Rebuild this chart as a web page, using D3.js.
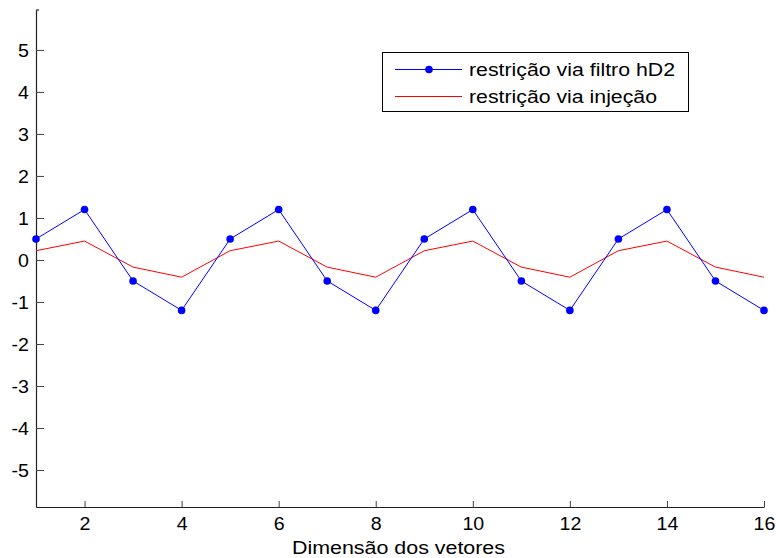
<!DOCTYPE html>
<html>
<head>
<meta charset="utf-8">
<script src="https://cdn.jsdelivr.net/npm/d3@7"></script>
<style>
  html, body { margin: 0; padding: 0; background: #fff; }
  svg { display: block; }
  text { font-family: "Liberation Sans", Arial, sans-serif; fill: #000; }
</style>
</head>
<body>
<script>
// Vector index (dimension) and the two restricted signals
const dims = [1, 2, 3, 4, 5, 6, 7, 8, 9, 10, 11, 12, 13, 14, 15, 16];
const filtroHD2 = [0.5, 1.2, -0.5, -1.2, 0.5, 1.2, -0.5, -1.2, 0.5, 1.2, -0.5, -1.2, 0.5, 1.2, -0.5, -1.2];
const injecao = [0.22, 0.45, -0.17, -0.41, 0.22, 0.45, -0.17, -0.41, 0.22, 0.45, -0.17, -0.41, 0.22, 0.45, -0.17, -0.41];
const xTicks = [2, 4, 6, 8, 10, 12, 14, 16];
const yTicks = [-5, -4, -3, -2, -1, 0, 1, 2, 3, 4, 5];
const seriesNames = ["restrição via filtro hD2", "restrição via injeção"];
const xTitle = "Dimensão dos vetores";

const W = 776, H = 558;
const plotL = 36, plotR = 764, plotT = 10, plotB = 507;
const FONT = "17.5px";
const STRETCH = 1.12; // text is drawn slightly wide

const svg = d3.select("body").append("svg").attr("width", W).attr("height", H);

const x = d3.scaleLinear().domain([1, 16]).range([plotL, plotR]);
const y = d3.scaleLinear().domain([-5.88, 5.95]).range([plotB, plotT]);

function widen(sel, factor) {
  sel.each(function () {
    const w = this.getComputedTextLength();
    d3.select(this).attr("textLength", w * factor).attr("lengthAdjust", "spacingAndGlyphs");
  });
}

// Axes: left and bottom only, ticks pointing inward; plain hyphen for negatives
const plain = d => String(d);
const yAxis = d3.axisLeft(y).tickValues(yTicks).tickFormat(plain).tickSizeInner(-8).tickSizeOuter(0).tickPadding(7);
const xAxis = d3.axisBottom(x).tickValues(xTicks).tickFormat(plain).tickSizeInner(-6).tickSizeOuter(0).tickPadding(11);

const gy = svg.append("g").attr("transform", `translate(${plotL},0)`).call(yAxis);
const gx = svg.append("g").attr("transform", `translate(0,${plotB})`).call(xAxis);

[gy, gx].forEach(g => {
  g.select(".domain").attr("stroke", "#222").attr("stroke-width", 1.2);
  g.selectAll(".tick line").attr("stroke", "#444").attr("stroke-width", 1);
  g.selectAll(".tick text").style("font-size", FONT).style("font-family", "'Liberation Sans', Arial, sans-serif");
});
gy.selectAll(".tick text").attr("dy", "0.36em");
gx.selectAll(".tick text").attr("dy", "0.71em");
widen(gy.selectAll(".tick text"), STRETCH);
widen(gx.selectAll(".tick text"), STRETCH);

// small top-corner tick of the vertical axis
svg.append("line").attr("x1", plotL).attr("x2", plotL + 3).attr("y1", plotT).attr("y2", plotT)
  .attr("stroke", "#222").attr("stroke-width", 1.2);

// x axis title
svg.append("text").attr("x", 398.5).attr("y", 554)
  .attr("text-anchor", "middle").style("font-size", FONT).text(xTitle)
  .attr("textLength", 213).attr("lengthAdjust", "spacingAndGlyphs");

const line = d3.line().x((d, i) => x(dims[i])).y(d => y(d));

// red series
svg.append("path").datum(injecao).attr("d", line)
  .attr("fill", "none").attr("stroke", "#ff0000").attr("stroke-width", 1);

// blue series with markers
svg.append("path").datum(filtroHD2).attr("d", line)
  .attr("fill", "none").attr("stroke", "#0000ff").attr("stroke-width", 1);
svg.append("g").selectAll("circle").data(filtroHD2).join("circle")
  .attr("cx", (d, i) => x(dims[i])).attr("cy", d => y(d)).attr("r", 3.8)
  .attr("fill", "#0000ff");

// legend
const lg = svg.append("g");
lg.append("rect").attr("x", 382.5).attr("y", 52.5).attr("width", 306).attr("height", 59)
  .attr("fill", "#fff").attr("stroke", "#000").attr("stroke-width", 1);
const rows = [
  { name: seriesNames[0], color: "#0000ff", marker: true, yy: 69.5, len: 206 },
  { name: seriesNames[1], color: "#ff0000", marker: false, yy: 96.5, len: 188 }
];
rows.forEach(r => {
  lg.append("line").attr("x1", 395).attr("x2", 462).attr("y1", r.yy).attr("y2", r.yy)
    .attr("stroke", r.color).attr("stroke-width", 1);
  if (r.marker) lg.append("circle").attr("cx", 429).attr("cy", r.yy).attr("r", 3.8).attr("fill", r.color);
  lg.append("text").attr("x", 469).attr("y", r.yy).attr("dy", "0.35em")
    .style("font-size", FONT).text(r.name)
    .attr("textLength", r.len).attr("lengthAdjust", "spacingAndGlyphs");
});
</script>
</body>
</html>
